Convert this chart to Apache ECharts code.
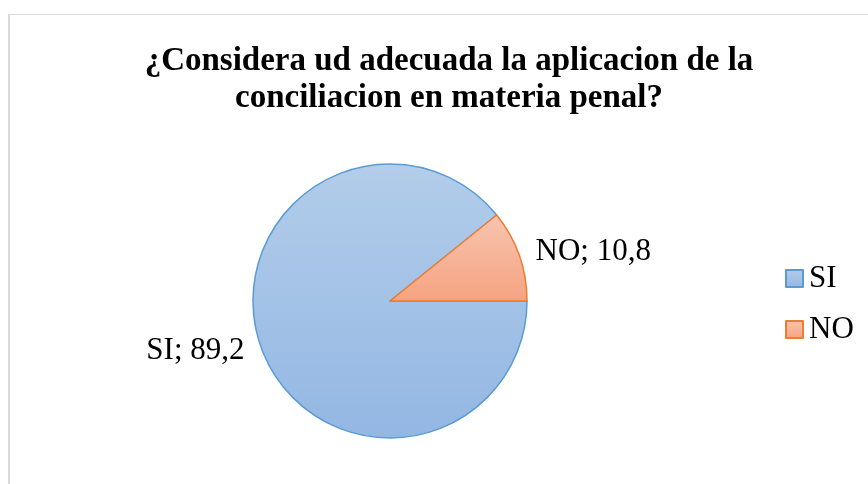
<!DOCTYPE html>
<html>
<head>
<meta charset="utf-8">
<script src="https://cdn.jsdelivr.net/npm/echarts@6/dist/echarts.min.js"></script>
<style>
  html, body { margin: 0; padding: 0; background: #fff; }
  #chartPieContainer { width: 868px; height: 484px; position: absolute; left: 0; top: 0; }
  #frame {
    position: absolute; left: 8px; top: 14px; width: 860px; height: 470px;
    border-top: 1px solid #d9d9d9; border-left: 2px solid #d9d9d9; box-sizing: border-box;
    pointer-events: none;
  }
</style>
</head>
<body>
<div id="chartPieContainer"></div>
<div id="frame"></div>
<script>
  var categories = ['SI', 'NO'];
  var values = [89.2, 10.8];

  var fills = [
    ['#b3cdea', '#93b7e3'],
    ['#f8c4b0', '#f5a380']
  ];
  var borders = ['#5b9bd5', '#ed7d31'];
  var serif = "'Liberation Serif', 'Times New Roman', serif";

  var dom = document.getElementById('chartPieContainer');
  var myChart = echarts.init(dom);

  var pieData = [];
  for (var i = 0; i < categories.length; i++) {
    pieData.push({
      name: categories[i],
      value: values[i],
      itemStyle: {
        color: new echarts.graphic.LinearGradient(0, 0, 0, 1, [
          { offset: 0, color: fills[i][0] },
          { offset: 1, color: fills[i][1] }
        ]),
        borderColor: borders[i],
        borderWidth: 1.5
      }
    });
  }

  var option = {
    animation: false,
    title: {
      text: '¿Considera ud adecuada la aplicacion de la\nconciliacion en materia penal?',
      left: 444,
      textAlign: 'center',
      top: 38,
      textStyle: {
        fontFamily: serif,
        fontWeight: 'bold',
        fontSize: 33,
        lineHeight: 37,
        color: '#000'
      }
    },
    legend: {
      orient: 'vertical',
      left: 780,
      top: 258,
      itemWidth: 17,
      itemHeight: 17,
      itemGap: 20,
      icon: 'rect',
      data: categories,
      textStyle: {
        fontFamily: serif,
        fontSize: 31,
        color: '#000',
        padding: [0, 0, 0, 1]
      }
    },
    series: [
      {
        name: 'conciliacion',
        type: 'pie',
        center: [390, 301],
        radius: 137,
        startAngle: 0,
        clockwise: true,
        avoidLabelOverlap: false,
        label: {
          show: true,
          position: 'outside',
          formatter: function (p) { return p.name + '; ' + String(p.value).replace('.', ','); },
          fontFamily: serif,
          fontSize: 31,
          color: '#000'
        },
        labelLine: { show: false, length: 12, length2: 0 },
        emphasis: { disabled: true },
        data: pieData
      }
    ]
  };
  myChart.setOption(option, true);
</script>
</body>
</html>
